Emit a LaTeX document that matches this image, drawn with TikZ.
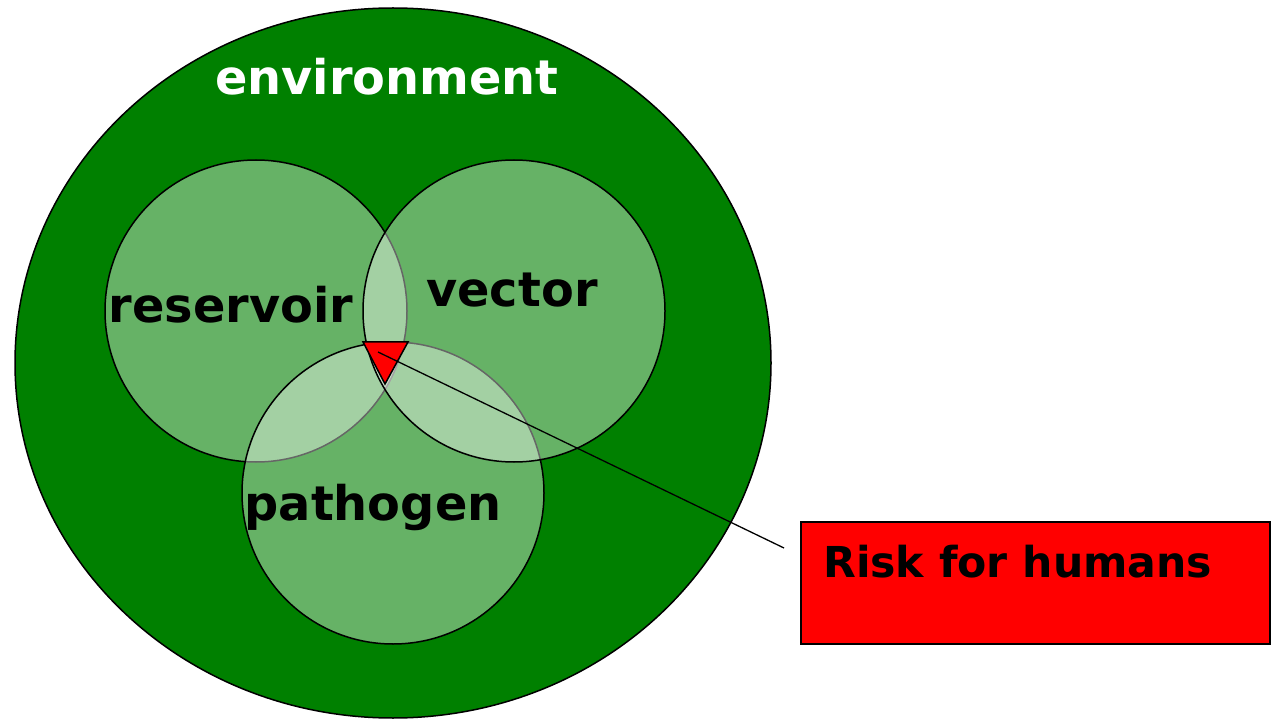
\documentclass[tikz,border=0pt]{standalone}
\usepackage{fontspec}
\setmainfont{DejaVu Sans}
\usepackage{tikz}
\usetikzlibrary{shapes.geometric}

\definecolor{envgreen}{RGB}{0,128,0}

\tikzset{
	set/.style={shape=circle,draw=black,line width=1.5pt,fill=white,fill opacity=0.4,minimum size=302pt,inner sep=0pt},
	setlabel/.style={anchor=base,text=black,font=\fontsize{47.8}{52}\selectfont\bfseries}
}

\begin{document}
\begin{tikzpicture}[x=1pt,y=-1pt]
		\useasboundingbox (0,0) rectangle (1272,719);
		% environment
		\node [shape=ellipse,draw=black,line width=1.5pt,fill=envgreen,minimum width=756pt,minimum height=710pt,inner sep=0pt] (env) at (393,363) {};
		% the three sets
		\node [set] (reservoir) at (256,311) {};
		\node [set] (pathogen) at (393,493) {};
		\node [set] (vector) at (514,311) {};
		% overlap of all three
		\draw [fill=red,line width=1.5pt] (363,342) -- (408,342) -- (385,384) -- cycle;
		\coordinate (overlap) at (378,352);
		\coordinate (tip) at (784,548);
		\draw [line width=1.3pt] (overlap) -- (tip);
		\node [shape=rectangle,draw=black,line width=1.5pt,fill=red,minimum width=469pt,minimum height=122pt,inner sep=0pt] (risk) at (1035.5,583) {};
		% labels
		\node [setlabel,text=white] (envlabel) at (387,95) {environment};
		\node [setlabel] (reslabel) at (231,323) {reservoir};
		\node [setlabel] (veclabel) at (512,307) {vector};
		\node [setlabel] (patlabel) at (373,520) {pathogen};
		\node [anchor=base west,inner sep=0pt,font=\fontsize{42.6}{47}\selectfont\bfseries] (risklabel) at (823,577) {Risk for humans};
	\end{tikzpicture}
\end{document}
